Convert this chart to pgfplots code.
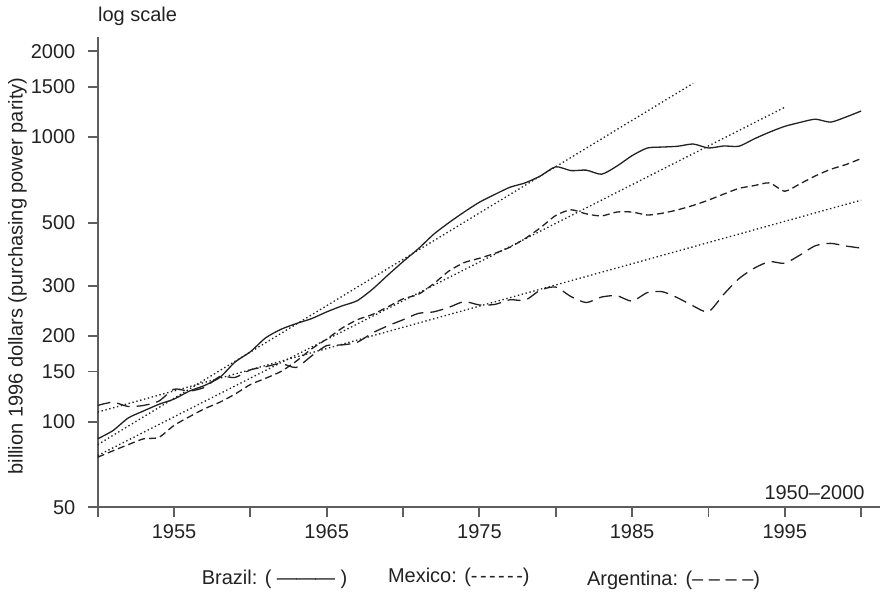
\documentclass[border=0pt]{standalone}
\usepackage{fontspec}
\setmainfont{Liberation Sans}
\usepackage{pgfplots}
\pgfplotsset{compat=1.18}
\definecolor{axgray}{HTML}{5E5E5E}
\definecolor{ink}{HTML}{222222}
\pgfplotstableread{
year brazil mexico argentina
1950 87 75 114
1951 93 79 117
1952 103 83 113
1953 109 87 114
1954 115 88 118
1955 120 97 130
1956 128 104 128
1957 134 111 132
1958 143 117 144
1959 162 125 143
1960 176 135 152
1961 197 142 156
1962 211 150 160
1963 221 163 155
1964 230 180 170
1965 243 195 185
1966 255 213 186
1967 266 228 190
1968 292 238 205
1969 327 253 217
1970 365 270 228
1971 405 280 240
1972 455 305 243
1973 500 338 252
1974 545 362 264
1975 590 375 257
1976 628 390 258
1977 666 410 268
1978 690 440 267
1979 730 480 290
1980 786 530 297
1981 762 555 275
1982 765 537 262
1983 740 528 274
1984 790 545 277
1985 860 545 265
1986 915 532 284
1987 922 540 286
1988 928 555 272
1989 945 575 255
1990 915 600 243
1991 930 630 280
1992 928 660 318
1993 985 675 346
1994 1040 690 365
1995 1090 645 360
1996 1125 685 385
1997 1155 730 415
1998 1128 770 423
1999 1175 800 414
2000 1234 840 407
}\datatable
\begin{document}
\begin{tikzpicture}
\useasboundingbox (0,0) rectangle (440.5pt,295.5pt);
\begin{axis}[
  at={(48.85pt,41.85pt)}, anchor=south west,
  scale only axis, width=391.15pt, height=235.15pt,
  xmin=1950, xmax=2001.24,
  ymode=log, ymin=50, ymax=2246,
  axis lines=left,
  axis line style={-, line width=1pt, color=axgray},
  tick align=outside,
  major tick length=5pt, minor tick length=5pt,
  tick style={line width=0.9pt, color=axgray},
  xtick={1955,1965,1975,1985,1995},
  xticklabels={1955,1965,1975,1985,1995},
  minor xtick={1950,1960,1970,1980,1990,2000},
  ytick={50,100,150,200,300,500,1000,1500,2000},
  yticklabels={50,100,150,200,300,500,1000,1500,2000},
  yminorticks=false,
  ticklabel style={font=\fontsize{10}{12}\selectfont, text=ink},
  yticklabel style={inner sep=0pt, anchor=east, xshift=-6pt},
  xticklabel style={inner sep=0pt, anchor=north, yshift=-3.2pt},
  every axis plot/.append style={line width=0.65pt, color=ink},
]
\addplot[solid, smooth, tension=0.4] table[x=year,y=brazil]{\datatable};
\addplot[smooth, tension=0.4, dash pattern=on 3.5pt off 2pt] table[x=year,y=mexico]{\datatable};
\addplot[smooth, tension=0.4, dash pattern=on 6.5pt off 3.5pt] table[x=year,y=argentina]{\datatable};
\addplot[dash pattern=on 0.7pt off 1.3pt] coordinates {(1950,83) (1989,1544)};
\addplot[dash pattern=on 0.7pt off 1.3pt] coordinates {(1950,76) (1995,1272)};
\addplot[dash pattern=on 0.7pt off 1.3pt] coordinates {(1950,108) (2000,600)};
\end{axis}
\begin{scope}[every node/.style={inner sep=0pt, text=ink, font=\fontsize{10}{12}\selectfont}]
\node[anchor=base west] at (48.85pt,284.75pt) {log scale};
\node[anchor=base east] at (432.5pt,46pt) {1950–2000};
\node[rotate=90, anchor=base] at (11.3pt,157.5pt) {billion 1996 dollars (purchasing power parity)};
\node[anchor=base west] at (100.7pt,3.5pt) {Brazil: ( —\kern-0.5pt—\kern-0.5pt— )};
\node[anchor=base west] at (193.8pt,4.5pt) {Mexico: (-\kern1.2pt-\kern1.2pt-\kern1.2pt-\kern1.2pt-\kern1.2pt-)};
\node[anchor=base west] at (293.3pt,3pt) {Argentina: (– – – –)};
\end{scope}
\end{tikzpicture}
\end{document}
